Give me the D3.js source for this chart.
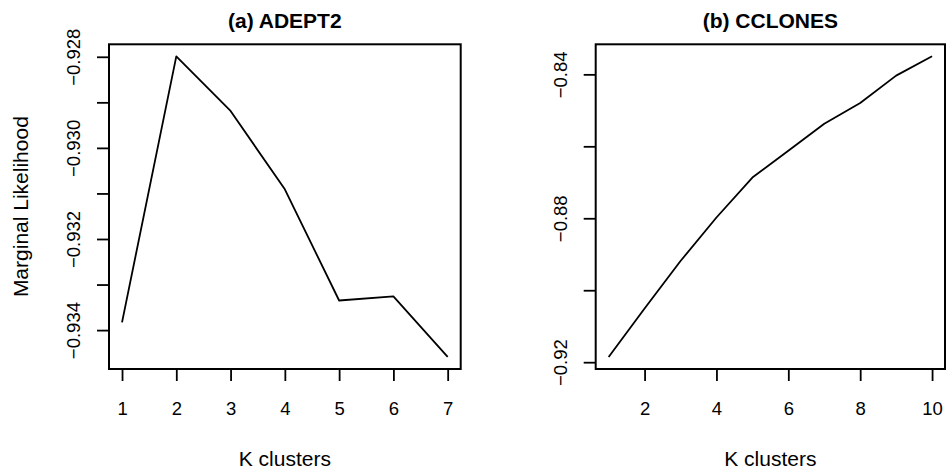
<!DOCTYPE html>
<html>
<head>
<meta charset="utf-8">
<script src="https://cdn.jsdelivr.net/npm/d3@7"></script>
<style>
  body { margin: 0; background: #fff; }
  svg text { font-family: "Liberation Sans", Arial, Helvetica, sans-serif; fill: #000; }
</style>
</head>
<body>
<script>
// values
var adeptK = [1, 2, 3, 4, 5, 6, 7];
var adeptML = [-0.93383, -0.92799, -0.92919, -0.93091, -0.93335, -0.93326, -0.93459];
var adeptYTicks = [-0.934, -0.933, -0.932, -0.931, -0.930, -0.929, -0.928];
var adeptYLabels = [-0.934, -0.932, -0.930, -0.928];
var adeptXTicks = [1, 2, 3, 4, 5, 6, 7];

var cclonesK = [1, 2, 3, 4, 5, 6, 7, 8, 9, 10];
var cclonesML = [-0.91855, -0.90507, -0.89189, -0.87978, -0.86869, -0.86125, -0.85373, -0.84797, -0.84036, -0.83499];
var cclonesYTicks = [-0.92, -0.90, -0.88, -0.86, -0.84];
var cclonesYLabels = [-0.92, -0.88, -0.84];
var cclonesXTicks = [2, 4, 6, 8, 10];

var W = 949, H = 474;
var svg = d3.select('body').append('svg')
  .attr('width', W)
  .attr('height', H);

// R style: extend the data range by 4% on each side
function pad(arr) {
  var e = d3.extent(arr), d = (e[1] - e[0]) * 0.04;
  return [e[0] - d, e[1] + d];
}

function panel(opts) {
  var x = d3.scaleLinear().domain(pad(opts.k)).range([opts.left, opts.right]);
  var y = d3.scaleLinear().domain(pad(opts.ml)).range([opts.bottom, opts.top]);
  var g = svg.append('g');
  var fmt = d3.format(opts.fmt);

  // y axis, labels rotated like R's default las=0
  var ya = g.append('g')
    .attr('transform', 'translate(' + opts.left + ',0)')
    .call(d3.axisLeft(y).tickValues(opts.yTicks).tickSize(12)
      .tickFormat(function (v) {
        return opts.yLabels.some(function (l) { return Math.abs(l - v) < 1e-9; }) ? fmt(v) : '';
      }));
  ya.select('.domain').remove();
  ya.selectAll('line').attr('stroke', '#000').attr('stroke-width', 1.8);
  ya.selectAll('text')
    .attr('x', null).attr('dy', null)
    .attr('transform', 'translate(-29,0) rotate(-90)')
    .attr('text-anchor', 'middle')
    .style('font-size', '18.5px');

  // x axis
  var xa = g.append('g')
    .attr('transform', 'translate(0,' + opts.bottom + ')')
    .call(d3.axisBottom(x).tickValues(opts.xTicks).tickSize(12).tickFormat(d3.format('d')));
  xa.select('.domain').remove();
  xa.selectAll('line').attr('stroke', '#000').attr('stroke-width', 1.8);
  xa.selectAll('text')
    .attr('y', 46).attr('dy', null)
    .style('font-size', '18.5px');

  // the curve
  var line = d3.line()
    .x(function (d, i) { return x(opts.k[i]); })
    .y(function (d) { return y(d); });
  g.append('path')
    .datum(opts.ml)
    .attr('d', line)
    .attr('fill', 'none')
    .attr('stroke', '#000')
    .attr('stroke-width', 1.8)
    .attr('stroke-linejoin', 'round');

  // plot box
  g.append('rect')
    .attr('x', opts.left).attr('y', opts.top)
    .attr('width', opts.right - opts.left)
    .attr('height', opts.bottom - opts.top)
    .attr('fill', 'none')
    .attr('stroke', '#000')
    .attr('stroke-width', 2);

  var cx = (opts.left + opts.right) / 2;
  g.append('text')
    .attr('x', cx).attr('y', 28)
    .attr('text-anchor', 'middle')
    .style('font-size', '21px')
    .style('font-weight', 'bold')
    .text(opts.title);

  g.append('text')
    .attr('x', cx).attr('y', 466)
    .attr('text-anchor', 'middle')
    .style('font-size', '21px')
    .text('K clusters');

  if (opts.ylab) {
    g.append('text')
      .attr('transform', 'translate(28,' + ((opts.top + opts.bottom) / 2) + ') rotate(-90)')
      .attr('text-anchor', 'middle')
      .style('font-size', '21px')
      .text(opts.ylab);
  }
}

panel({
  k: adeptK, ml: adeptML, yTicks: adeptYTicks, yLabels: adeptYLabels, xTicks: adeptXTicks,
  fmt: '.3f', title: '(a) ADEPT2', ylab: 'Marginal Likelihood',
  left: 109, right: 460.7, top: 44.3, bottom: 369
});

panel({
  k: cclonesK, ml: cclonesML, yTicks: cclonesYTicks, yLabels: cclonesYLabels, xTicks: cclonesXTicks,
  fmt: '.2f', title: '(b) CCLONES',
  left: 595.7, right: 945, top: 44.3, bottom: 369
});
</script>
</body>
</html>
